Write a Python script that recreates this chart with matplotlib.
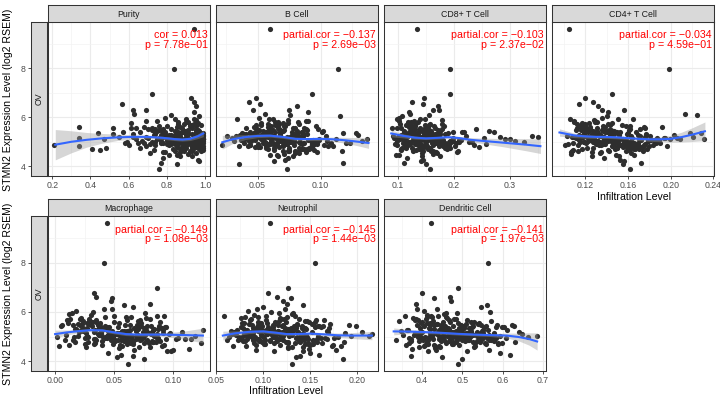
import numpy as np
import matplotlib.pyplot as plt
from matplotlib.ticker import FixedLocator

plt.rcParams['font.family'] = ['Liberation Sans', 'DejaVu Sans']

# STMN2 expression (same samples in every panel)
expr = [
    5.12, 4.85, 5.34, 5.61, 4.72, 5.03, 5.48, 4.95, 5.21, 5.77, 4.58, 5.15, 5.39, 4.88, 5.06,
    5.55, 4.67, 5.28, 5.92, 4.99, 5.11, 4.43, 5.67, 5.01, 5.24, 4.81, 5.45, 6.12, 4.93, 5.18,
    4.76, 5.36, 5.08, 5.84, 4.62, 5.27, 4.97, 5.52, 5.14, 4.35, 5.71, 5.02, 4.89, 5.43, 5.19,
    6.05, 4.79, 5.31, 4.91, 5.58, 5.09, 4.54, 5.25, 5.66, 4.83, 5.13, 5.41, 4.71, 5.98, 5.04,
    5.33, 4.64, 5.17, 5.49, 4.96, 5.73, 4.86, 5.22, 6.31, 5.07, 4.47, 5.37, 5.00, 5.62, 4.90,
    5.26, 4.74, 5.54, 5.10, 4.27, 5.81, 5.16, 4.94, 5.44, 4.80, 5.29, 5.88, 4.69, 5.20, 5.05,
    4.87, 5.50, 5.13, 4.60, 5.35, 6.20, 4.98, 5.23, 4.77, 5.64, 5.08, 4.51, 5.40, 5.94, 5.11,
    4.92, 5.30, 5.69, 4.84, 5.18, 4.40, 5.56, 5.03, 5.27, 4.73, 6.45, 5.15, 4.98, 5.46, 4.66,
    5.21, 5.78, 4.89, 5.32, 4.56, 5.12, 5.60, 4.95, 5.38, 4.22, 5.06, 5.85, 4.81, 5.24, 5.00,
    5.47, 4.70, 5.19, 6.10, 4.90, 5.33, 5.02, 4.63, 5.57, 5.14, 4.86, 5.42, 5.75, 4.97, 5.26,
    9.60, 7.97, 6.96, 6.79, 3.87, 6.55, 6.30, 6.62, 4.10, 4.15,
    5.05, 4.78, 5.22, 5.36, 4.91, 5.14, 5.52, 4.68, 5.29, 5.01, 4.85, 5.43, 5.17, 4.96, 5.63,
    5.09, 5.31, 4.75, 5.58, 5.02, 4.88, 5.25, 5.70, 4.94, 5.13, 4.57, 5.38, 5.07, 5.82, 4.83,
    5.19, 4.99, 5.46, 4.72, 5.11, 5.34, 4.90, 5.53, 5.00, 5.27, 4.64, 5.16, 5.41, 4.86, 5.08,
    5.66, 4.93, 5.20, 5.03, 4.79, 5.49, 5.12, 4.45, 5.30, 5.95, 4.97, 5.23, 4.82, 5.39, 5.06,
    4.89, 5.15, 5.60, 4.74, 5.26, 5.04, 5.44, 4.61, 5.10, 5.35, 4.95, 5.72, 5.18, 4.87, 5.28,
    5.01, 5.48, 4.80, 5.21, 5.13, 4.69, 5.56, 5.07, 4.92, 5.33, 5.79, 4.98, 5.24, 4.76, 5.42,
]

purity = [
    0.83, 0.21, 0.91, 0.34, 0.41, 0.77, 0.95, 0.88, 0.69, 0.61, 0.79, 0.97, 0.86, 0.74, 0.92,
    0.52, 0.45, 0.81, 0.90, 0.96, 0.64, 0.87, 0.98, 0.72, 0.94, 0.34, 0.84, 0.63, 0.99, 0.78,
    0.48, 0.44, 0.93, 0.75, 0.89, 0.98, 0.58, 0.82, 0.96, 0.78, 0.94, 0.67, 0.91, 0.73, 0.55,
    0.97, 0.85, 0.62, 0.93, 0.88, 0.80, 0.71, 0.99, 0.76, 0.95, 0.87, 0.66, 0.97, 0.79, 0.90,
    0.52, 0.92, 0.70, 0.96, 0.84, 0.89, 0.60, 0.94, 0.62, 0.86, 0.81, 0.98, 0.74, 0.68, 0.97,
    0.90, 0.66, 0.78, 0.99, 0.96, 0.86, 0.34, 0.91, 0.97, 0.88, 0.77, 0.95, 0.83, 0.62, 0.85,
    0.93, 0.72, 0.89, 0.78, 0.99, 0.94, 0.59, 0.87, 0.98, 0.80, 0.94, 0.91, 0.57, 0.84, 0.75,
    0.82, 0.96, 0.92, 0.69, 0.87, 0.93, 0.64, 0.99, 0.85, 0.90, 0.95, 0.76, 0.97, 0.89, 0.73,
    0.98, 0.96, 0.86, 0.79, 0.95, 0.47, 0.85, 0.92, 0.74, 0.97, 0.88, 0.69, 0.99, 0.81, 0.94,
    0.91, 0.87, 0.96, 0.82, 0.71, 0.93, 0.83, 0.98, 0.61, 0.90, 0.96, 0.88, 0.95, 0.65, 0.99,
    0.943, 0.835, 0.72, 0.926, 0.757, 0.565, 0.69, 0.94, 0.85, 0.77,
    0.88, 0.93, 0.79, 0.97, 0.84, 0.91, 0.74, 0.99, 0.86, 0.95, 0.81, 0.90, 0.97, 0.77, 0.92,
    0.94, 0.85, 0.98, 0.72, 0.89, 0.96, 0.83, 0.93, 0.78, 0.99, 0.87, 0.95, 0.80, 0.91, 0.97,
    0.86, 0.92, 0.75, 0.98, 0.82, 0.95, 0.89, 0.70, 0.96, 0.84, 0.93, 0.99, 0.79, 0.90, 0.87,
    0.95, 0.81, 0.97, 0.88, 0.93, 0.76, 0.99, 0.85, 0.91, 0.94, 0.68, 0.83, 0.96, 0.89, 0.92,
    0.80, 0.98, 0.87, 0.94, 0.73, 0.90, 0.96, 0.84, 0.99, 0.78, 0.92, 0.86, 0.95, 0.97, 0.82,
    0.91, 0.77, 0.95, 0.86, 0.98, 0.89, 0.93, 0.81, 0.97, 0.74, 0.90, 0.94, 0.85, 0.99, 0.88,
]

b_cell = [
    0.065, 0.022, 0.081, 0.047, 0.058, 0.092, 0.071, 0.039, 0.076, 0.053, 0.088, 0.062, 0.101, 0.044, 0.069,
    0.078, 0.095, 0.057, 0.034, 0.083, 0.112, 0.066, 0.049, 0.073, 0.086, 0.042, 0.061, 0.056, 0.097, 0.052,
    0.063, 0.038, 0.079, 0.090, 0.070, 0.045, 0.108, 0.059, 0.084, 0.074, 0.067, 0.031, 0.093, 0.054, 0.077,
    0.115, 0.048, 0.068, 0.085, 0.041, 0.061, 0.080, 0.104, 0.072, 0.035, 0.099, 0.064, 0.087, 0.051, 0.133,
    0.055, 0.075, 0.043, 0.089, 0.062, 0.083, 0.070, 0.026, 0.046, 0.094, 0.060, 0.118, 0.079, 0.066, 0.050,
    0.086, 0.057, 0.098, 0.040, 0.072, 0.064, 0.047, 0.123, 0.081, 0.067, 0.036, 0.074, 0.091, 0.058, 0.105,
    0.044, 0.068, 0.053, 0.082, 0.128, 0.090, 0.076, 0.062, 0.050, 0.096, 0.037, 0.071, 0.085, 0.059, 0.137,
    0.073, 0.049, 0.064, 0.110, 0.056, 0.078, 0.087, 0.045, 0.068, 0.092, 0.081, 0.030, 0.061, 0.102, 0.075,
    0.052, 0.070, 0.097, 0.041, 0.083, 0.066, 0.058, 0.120, 0.077, 0.063, 0.048, 0.088, 0.106, 0.033, 0.071,
    0.060, 0.084, 0.054, 0.076, 0.093, 0.039, 0.069, 0.117, 0.080, 0.046, 0.103, 0.057, 0.074, 0.065, 0.130,
    0.0599, 0.1134, 0.0933, 0.0484, 0.0733, 0.052, 0.075, 0.043, 0.035, 0.118,
    0.067, 0.052, 0.081, 0.059, 0.073, 0.045, 0.088, 0.063, 0.077, 0.056, 0.094, 0.070, 0.049, 0.084, 0.061,
    0.075, 0.058, 0.091, 0.066, 0.043, 0.079, 0.062, 0.053, 0.086, 0.071, 0.097, 0.048, 0.069, 0.082, 0.057,
    0.064, 0.078, 0.050, 0.089, 0.072, 0.060, 0.095, 0.067, 0.055, 0.080, 0.074, 0.046, 0.085, 0.063, 0.099,
    0.071, 0.057, 0.083, 0.068, 0.092, 0.051, 0.076, 0.065, 0.087, 0.062, 0.054, 0.079, 0.070, 0.044, 0.090,
    0.059, 0.084, 0.066, 0.075, 0.053, 0.096, 0.061, 0.080, 0.069, 0.047, 0.087, 0.058, 0.073, 0.065, 0.082,
    0.078, 0.062, 0.093, 0.055, 0.070, 0.085, 0.049, 0.074, 0.060, 0.089, 0.066, 0.077, 0.052, 0.083, 0.068,
]

cd8 = [
    0.142, 0.098, 0.171, 0.125, 0.188, 0.110, 0.156, 0.204, 0.133, 0.119, 0.167, 0.093, 0.215, 0.148, 0.181,
    0.128, 0.160, 0.105, 0.149, 0.232, 0.137, 0.176, 0.115, 0.195, 0.091, 0.152, 0.263, 0.122, 0.169, 0.140,
    0.184, 0.113, 0.146, 0.101, 0.207, 0.128, 0.165, 0.240, 0.136, 0.117, 0.158, 0.198, 0.095, 0.175, 0.283,
    0.108, 0.150, 0.124, 0.188, 0.098, 0.162, 0.143, 0.221, 0.131, 0.174, 0.300, 0.119, 0.153, 0.102, 0.195,
    0.166, 0.127, 0.254, 0.140, 0.111, 0.179, 0.135, 0.158, 0.173, 0.212, 0.096, 0.146, 0.325, 0.121, 0.186,
    0.154, 0.107, 0.130, 0.170, 0.144, 0.118, 0.199, 0.161, 0.138, 0.245, 0.112, 0.178, 0.157, 0.350, 0.126,
    0.192, 0.145, 0.103, 0.168, 0.134, 0.120, 0.227, 0.151, 0.115, 0.183, 0.139, 0.163, 0.272, 0.099, 0.148,
    0.131, 0.176, 0.155, 0.202, 0.116, 0.143, 0.090, 0.310, 0.164, 0.126, 0.172, 0.138, 0.209, 0.159, 0.106,
    0.147, 0.123, 0.189, 0.135, 0.170, 0.292, 0.153, 0.109, 0.218, 0.141, 0.161, 0.129, 0.180, 0.340, 0.114,
    0.172, 0.137, 0.100, 0.156, 0.258, 0.127, 0.193, 0.145, 0.166, 0.112, 0.236, 0.150, 0.132, 0.185, 0.119,
    0.1346, 0.194, 0.1925, 0.1466, 0.158, 0.145, 0.163, 0.125, 0.150, 0.110,
    0.138, 0.112, 0.165, 0.124, 0.151, 0.103, 0.178, 0.133, 0.157, 0.119, 0.186, 0.145, 0.108, 0.170, 0.129,
    0.154, 0.121, 0.193, 0.140, 0.099, 0.162, 0.116, 0.148, 0.175, 0.131, 0.205, 0.110, 0.159, 0.136, 0.182,
    0.127, 0.168, 0.143, 0.105, 0.155, 0.190, 0.122, 0.147, 0.173, 0.113, 0.160, 0.137, 0.198, 0.118, 0.150,
    0.165, 0.132, 0.109, 0.179, 0.144, 0.126, 0.158, 0.101, 0.185, 0.139, 0.117, 0.167, 0.149, 0.124, 0.210,
    0.141, 0.176, 0.120, 0.157, 0.134, 0.196, 0.111, 0.163, 0.146, 0.128, 0.181, 0.104, 0.152, 0.139, 0.169,
    0.118, 0.150, 0.187, 0.128, 0.162, 0.142, 0.106, 0.174, 0.135, 0.156, 0.123, 0.191, 0.144, 0.114, 0.160,
]

cd4 = [
    0.128, 0.101, 0.152, 0.139, 0.117, 0.163, 0.144, 0.109, 0.176, 0.124, 0.135, 0.187, 0.148, 0.113, 0.157,
    0.121, 0.141, 0.169, 0.106, 0.133, 0.199, 0.126, 0.154, 0.115, 0.181, 0.145, 0.131, 0.213, 0.160, 0.137,
    0.150, 0.119, 0.172, 0.129, 0.108, 0.143, 0.166, 0.125, 0.194, 0.138, 0.112, 0.159, 0.132, 0.147, 0.221,
    0.140, 0.173, 0.127, 0.155, 0.118, 0.184, 0.134, 0.103, 0.162, 0.146, 0.209, 0.123, 0.178, 0.136, 0.151,
    0.130, 0.158, 0.111, 0.142, 0.190, 0.120, 0.167, 0.135, 0.156, 0.114, 0.149, 0.228, 0.127, 0.175, 0.104,
    0.144, 0.122, 0.137, 0.170, 0.153, 0.131, 0.116, 0.186, 0.140, 0.164, 0.203, 0.128, 0.148, 0.110, 0.179,
    0.133, 0.161, 0.149, 0.126, 0.218, 0.141, 0.119, 0.171, 0.155, 0.137, 0.182, 0.107, 0.146, 0.165, 0.231,
    0.158, 0.129, 0.143, 0.197, 0.124, 0.152, 0.176, 0.138, 0.114, 0.168, 0.132, 0.206, 0.147, 0.121, 0.160,
    0.118, 0.145, 0.134, 0.177, 0.163, 0.127, 0.192, 0.150, 0.139, 0.156, 0.124, 0.110, 0.170, 0.143, 0.185,
    0.136, 0.166, 0.108, 0.225, 0.147, 0.159, 0.123, 0.174, 0.131, 0.195, 0.153, 0.140, 0.117, 0.162, 0.129,
    0.105, 0.198, 0.145, 0.120, 0.1615, 0.114, 0.136, 0.127, 0.155, 0.172,
    0.132, 0.147, 0.118, 0.160, 0.139, 0.124, 0.171, 0.109, 0.152, 0.136, 0.183, 0.127, 0.144, 0.165, 0.115,
    0.149, 0.126, 0.163, 0.112, 0.141, 0.175, 0.133, 0.120, 0.157, 0.138, 0.107, 0.168, 0.145, 0.129, 0.180,
    0.123, 0.156, 0.137, 0.170, 0.114, 0.148, 0.130, 0.162, 0.119, 0.177, 0.142, 0.126, 0.153, 0.135, 0.189,
    0.158, 0.121, 0.146, 0.131, 0.174, 0.111, 0.140, 0.166, 0.128, 0.151, 0.134, 0.117, 0.161, 0.143, 0.125,
    0.137, 0.164, 0.125, 0.150, 0.119, 0.179, 0.143, 0.113, 0.155, 0.130, 0.169, 0.141, 0.122, 0.157, 0.134,
    0.146, 0.116, 0.159, 0.138, 0.128, 0.167, 0.121, 0.152, 0.176, 0.133, 0.110, 0.145, 0.163, 0.127, 0.150,
]

macrophage = [
    0.052, 0.008, 0.067, 0.031, 0.079, 0.044, 0.015, 0.086, 0.058, 0.022, 0.071, 0.039, 0.093, 0.047, 0.063,
    0.027, 0.055, 0.083, 0.012, 0.074, 0.036, 0.098, 0.061, 0.019, 0.048, 0.089, 0.069, 0.041, 0.104, 0.033,
    0.066, 0.024, 0.076, 0.050, 0.003, 0.091, 0.057, 0.029, 0.082, 0.045, 0.013, 0.072, 0.110, 0.038, 0.060,
    0.018, 0.085, 0.043, 0.068, 0.035, 0.096, 0.054, 0.077, 0.010, 0.062, 0.026, 0.088, 0.049, 0.032, 0.118,
    0.075, 0.040, 0.059, 0.006, 0.087, 0.021, 0.065, 0.046, 0.080, 0.037, 0.100, 0.053, 0.016, 0.070, 0.094,
    0.034, 0.064, 0.011, 0.081, 0.056, 0.042, 0.097, 0.025, 0.073, 0.051, 0.084, 0.030, 0.061, 0.107, 0.045,
    0.078, 0.023, 0.048, 0.090, 0.037, 0.066, 0.002, 0.057, 0.083, 0.029, 0.070, 0.113, 0.044, 0.014, 0.062,
    0.050, 0.087, 0.035, 0.072, 0.020, 0.095, 0.054, 0.040, 0.068, 0.123, 0.047, 0.076, 0.028, 0.059, 0.092,
    0.039, 0.064, 0.102, 0.017, 0.080, 0.052, 0.031, 0.074, 0.046, 0.066, 0.009, 0.086, 0.058, 0.024, 0.071,
    0.063, 0.033, 0.082, 0.048, 0.115, 0.027, 0.069, 0.055, 0.038, 0.091, 0.060, 0.005, 0.077, 0.043, 0.125,
    0.044, 0.041, 0.086, 0.033, 0.062, 0.048, 0.058, 0.035, 0.075, 0.052,
    0.046, 0.028, 0.061, 0.038, 0.073, 0.052, 0.019, 0.066, 0.041, 0.084, 0.056, 0.031, 0.078, 0.049, 0.024,
    0.058, 0.070, 0.034, 0.089, 0.047, 0.015, 0.063, 0.080, 0.042, 0.055, 0.026, 0.071, 0.037, 0.092, 0.050,
    0.039, 0.064, 0.021, 0.075, 0.053, 0.043, 0.087, 0.030, 0.060, 0.068, 0.012, 0.047, 0.081, 0.035, 0.057,
    0.072, 0.044, 0.059, 0.027, 0.083, 0.036, 0.051, 0.067, 0.018, 0.076, 0.048, 0.062, 0.040, 0.094, 0.054,
    0.033, 0.079, 0.050, 0.064, 0.022, 0.069, 0.042, 0.057, 0.086, 0.038, 0.061, 0.029, 0.074, 0.053, 0.045,
    0.065, 0.037, 0.082, 0.045, 0.056, 0.025, 0.073, 0.049, 0.034, 0.090, 0.060, 0.043, 0.068, 0.017, 0.078,
]

neutrophil = [
    0.112, 0.061, 0.135, 0.094, 0.148, 0.083, 0.121, 0.162, 0.101, 0.076, 0.127, 0.089, 0.155, 0.107, 0.140,
    0.098, 0.118, 0.072, 0.131, 0.180, 0.104, 0.143, 0.086, 0.159, 0.066, 0.115, 0.192, 0.093, 0.137, 0.110,
    0.124, 0.079, 0.146, 0.103, 0.068, 0.133, 0.091, 0.171, 0.117, 0.150, 0.087, 0.128, 0.075, 0.141, 0.205,
    0.084, 0.139, 0.097, 0.157, 0.113, 0.070, 0.126, 0.099, 0.165, 0.081, 0.187, 0.120, 0.145, 0.108, 0.213,
    0.130, 0.092, 0.152, 0.116, 0.074, 0.138, 0.102, 0.168, 0.125, 0.088, 0.178, 0.111, 0.064, 0.147, 0.096,
    0.106, 0.134, 0.080, 0.122, 0.160, 0.095, 0.142, 0.114, 0.199, 0.078, 0.129, 0.090, 0.153, 0.069, 0.119,
    0.144, 0.085, 0.109, 0.173, 0.123, 0.100, 0.136, 0.082, 0.186, 0.117, 0.071, 0.149, 0.105, 0.132, 0.216,
    0.095, 0.127, 0.156, 0.089, 0.137, 0.112, 0.077, 0.194, 0.103, 0.163, 0.121, 0.084, 0.142, 0.098, 0.174,
    0.116, 0.081, 0.148, 0.107, 0.131, 0.067, 0.124, 0.176, 0.093, 0.139, 0.110, 0.058, 0.153, 0.128, 0.088,
    0.136, 0.101, 0.169, 0.123, 0.083, 0.145, 0.113, 0.183, 0.097, 0.130, 0.073, 0.158, 0.118, 0.140, 0.108,
    0.1075, 0.155, 0.127, 0.105, 0.131, 0.130, 0.142, 0.115, 0.185, 0.135,
    0.109, 0.126, 0.094, 0.141, 0.118, 0.085, 0.152, 0.102, 0.133, 0.079, 0.121, 0.160, 0.097, 0.114, 0.145,
    0.129, 0.091, 0.112, 0.155, 0.100, 0.138, 0.083, 0.122, 0.166, 0.106, 0.143, 0.076, 0.118, 0.134, 0.096,
    0.115, 0.147, 0.088, 0.127, 0.104, 0.170, 0.093, 0.136, 0.111, 0.081, 0.150, 0.124, 0.099, 0.139, 0.119,
    0.103, 0.135, 0.120, 0.086, 0.157, 0.110, 0.128, 0.092, 0.146, 0.117, 0.074, 0.131, 0.107, 0.162, 0.098,
    0.137, 0.105, 0.149, 0.090, 0.123, 0.113, 0.164, 0.082, 0.128, 0.144, 0.101, 0.119, 0.087, 0.153, 0.110,
    0.121, 0.095, 0.138, 0.116, 0.080, 0.148, 0.104, 0.131, 0.168, 0.089, 0.125, 0.142, 0.112, 0.099, 0.133,
]

dendritic = [
    0.472, 0.335, 0.518, 0.401, 0.556, 0.443, 0.497, 0.582, 0.461, 0.378, 0.529, 0.421, 0.604, 0.486, 0.539,
    0.412, 0.491, 0.365, 0.455, 0.575, 0.428, 0.512, 0.389, 0.547, 0.349, 0.468, 0.622, 0.437, 0.503, 0.452,
    0.527, 0.396, 0.481, 0.358, 0.441, 0.563, 0.418, 0.509, 0.474, 0.592, 0.385, 0.535, 0.448, 0.499, 0.641,
    0.404, 0.543, 0.459, 0.372, 0.521, 0.487, 0.432, 0.611, 0.466, 0.393, 0.551, 0.478, 0.415, 0.568, 0.685,
    0.492, 0.361, 0.537, 0.446, 0.505, 0.409, 0.572, 0.463, 0.384, 0.524, 0.435, 0.597, 0.476, 0.342, 0.514,
    0.457, 0.531, 0.398, 0.483, 0.618, 0.424, 0.501, 0.369, 0.559, 0.448, 0.494, 0.412, 0.587, 0.470, 0.353,
    0.516, 0.438, 0.579, 0.405, 0.465, 0.545, 0.391, 0.489, 0.631, 0.427, 0.508, 0.376, 0.553, 0.460, 0.648,
    0.443, 0.497, 0.382, 0.565, 0.479, 0.416, 0.540, 0.454, 0.363, 0.598, 0.471, 0.522, 0.407, 0.585, 0.431,
    0.485, 0.413, 0.549, 0.467, 0.392, 0.533, 0.451, 0.608, 0.502, 0.374, 0.526, 0.440, 0.578, 0.496, 0.663,
    0.420, 0.558, 0.475, 0.387, 0.511, 0.453, 0.594, 0.432, 0.488, 0.547, 0.403, 0.628, 0.462, 0.519, 0.448,
    0.423, 0.563, 0.488, 0.400, 0.490, 0.430, 0.560, 0.470, 0.500, 0.450,
    0.466, 0.412, 0.521, 0.447, 0.498, 0.383, 0.539, 0.476, 0.429, 0.562, 0.454, 0.505, 0.401, 0.487, 0.571,
    0.438, 0.493, 0.367, 0.529, 0.461, 0.415, 0.552, 0.480, 0.396, 0.513, 0.445, 0.584, 0.472, 0.423, 0.506,
    0.481, 0.426, 0.547, 0.459, 0.390, 0.517, 0.469, 0.436, 0.574, 0.491, 0.408, 0.535, 0.457, 0.499, 0.380,
    0.511, 0.449, 0.395, 0.556, 0.478, 0.430, 0.501, 0.565, 0.419, 0.486, 0.541, 0.463, 0.372, 0.525, 0.452,
    0.427, 0.508, 0.470, 0.588, 0.441, 0.495, 0.404, 0.532, 0.477, 0.418, 0.560, 0.484, 0.439, 0.515, 0.462,
    0.493, 0.387, 0.536, 0.455, 0.511, 0.474, 0.421, 0.567, 0.444, 0.503, 0.459, 0.398, 0.548, 0.483, 0.527,
]

# loess curves: x, fitted y, half width of the grey band
purity_fit = ([0.216, 0.30, 0.38, 0.46, 0.54, 0.62, 0.70, 0.78, 0.84, 0.88, 0.92, 0.96, 0.99],
              [4.88, 5.00, 5.08, 5.14, 5.18, 5.20, 5.20, 5.16, 5.11, 5.09, 5.12, 5.22, 5.34],
              [0.62, 0.45, 0.30, 0.20, 0.13, 0.09, 0.07, 0.06, 0.06, 0.06, 0.07, 0.09, 0.13])
b_fit = ([0.022, 0.03, 0.04, 0.05, 0.06, 0.07, 0.08, 0.09, 0.10, 0.11, 0.12, 0.13, 0.138],
         [4.98, 5.10, 5.19, 5.24, 5.25, 5.20, 5.12, 5.11, 5.12, 5.10, 5.06, 5.00, 4.95],
         [0.28, 0.18, 0.10, 0.07, 0.06, 0.06, 0.06, 0.06, 0.07, 0.09, 0.12, 0.17, 0.22])
cd8_fit = ([0.088, 0.11, 0.13, 0.15, 0.17, 0.19, 0.21, 0.23, 0.25, 0.27, 0.29, 0.31, 0.33, 0.355],
           [5.34, 5.24, 5.17, 5.14, 5.16, 5.19, 5.15, 5.08, 5.04, 5.00, 4.96, 4.92, 4.88, 4.82],
           [0.14, 0.08, 0.06, 0.05, 0.05, 0.06, 0.07, 0.09, 0.11, 0.14, 0.17, 0.21, 0.25, 0.30])
cd4_fit = ([0.096, 0.11, 0.12, 0.13, 0.14, 0.15, 0.16, 0.17, 0.18, 0.19, 0.20, 0.21, 0.22, 0.232],
           [5.38, 5.26, 5.22, 5.20, 5.20, 5.18, 5.15, 5.12, 5.10, 5.10, 5.12, 5.19, 5.29, 5.43],
           [0.15, 0.09, 0.07, 0.06, 0.06, 0.06, 0.06, 0.07, 0.08, 0.10, 0.14, 0.20, 0.28, 0.38])
mac_fit = ([0.0, 0.01, 0.02, 0.03, 0.04, 0.05, 0.06, 0.07, 0.08, 0.09, 0.10, 0.11, 0.125],
           [5.10, 5.17, 5.22, 5.26, 5.25, 5.17, 5.10, 5.08, 5.08, 5.08, 5.07, 5.06, 5.04],
           [0.16, 0.10, 0.07, 0.06, 0.06, 0.06, 0.06, 0.06, 0.07, 0.08, 0.11, 0.17, 0.30])
neu_fit = ([0.057, 0.07, 0.085, 0.10, 0.115, 0.125, 0.135, 0.15, 0.165, 0.18, 0.195, 0.216],
           [5.04, 5.13, 5.19, 5.21, 5.15, 5.10, 5.10, 5.12, 5.09, 5.05, 5.04, 5.04],
           [0.18, 0.10, 0.07, 0.06, 0.06, 0.06, 0.06, 0.06, 0.07, 0.09, 0.12, 0.17])
dc_fit = ([0.33, 0.37, 0.41, 0.45, 0.49, 0.53, 0.57, 0.61, 0.64, 0.665, 0.685],
          [5.21, 5.20, 5.18, 5.15, 5.11, 5.08, 5.06, 5.04, 4.98, 4.90, 4.80],
          [0.14, 0.08, 0.06, 0.05, 0.05, 0.05, 0.06, 0.10, 0.16, 0.25, 0.35])

# name, x data, fit, stat lines, xlim, ticks, tick labels, row, column
panels = [
    ("Purity", purity, purity_fit, "cor = 0.013", "p = 7.78e\u221201",
     (0.178, 1.025), [0.2, 0.4, 0.6, 0.8, 1.0], ["0.2", "0.4", "0.6", "0.8", "1.0"], 0, 0),
    ("B Cell", b_cell, b_fit, "partial.cor = \u22120.137", "p = 2.69e\u221203",
     (0.017, 0.1455), [0.05, 0.10], ["0.05", "0.10"], 0, 1),
    ("CD8+ T Cell", cd8, cd8_fit, "partial.cor = \u22120.103", "p = 2.37e\u221202",
     (0.075, 0.365), [0.1, 0.2, 0.3], ["0.1", "0.2", "0.3"], 0, 2),
    ("CD4+ T Cell", cd4, cd4_fit, "partial.cor = \u22120.034", "p = 4.59e\u221201",
     (0.089, 0.2405), [0.12, 0.16, 0.20, 0.24], ["0.12", "0.16", "0.20", "0.24"], 0, 3),
    ("Macrophage", macrophage, mac_fit, "partial.cor = \u22120.149", "p = 1.08e\u221203",
     (-0.006, 0.131), [0.0, 0.05, 0.10], ["0.00", "0.05", "0.10"], 1, 0),
    ("Neutrophil", neutrophil, neu_fit, "partial.cor = \u22120.145", "p = 1.44e\u221203",
     (0.0497, 0.2225), [0.05, 0.10, 0.15, 0.20], ["0.05", "0.10", "0.15", "0.20"], 1, 1),
    ("Dendritic Cell", dendritic, dc_fit, "partial.cor = \u22120.141", "p = 1.97e\u221203",
     (0.306, 0.707), [0.4, 0.5, 0.6, 0.7], ["0.4", "0.5", "0.6", "0.7"], 1, 2),
]

W, H = 720, 401
fig = plt.figure(figsize=(7.2, 4.01), dpi=100)


def box(x0, y0, x1, y1):
    return fig.add_axes([x0 / W, 1 - y1 / H, (x1 - x0) / W, (y1 - y0) / H])


cols = [(48, 210), (216, 378), (384, 546), (552, 714)]
rows = [(5, 22, 176), (199, 216, 371)]
ylim = (3.6, 9.9)
edge = '#333333'

for name, xs, fit, line1, line2, xlim, ticks, labels, r, c in panels:
    x0, x1 = cols[c]
    s0, p0, p1 = rows[r]
    ax = box(x0, p0, x1, p1)
    ax.scatter(xs, expr, s=14, color='#2E2E2E', linewidths=0, zorder=2)
    fx, fy, hw = (np.array(v) for v in fit)
    ax.fill_between(fx, fy - hw, fy + hw, color='#999999', alpha=0.4, lw=0, zorder=3)
    ax.plot(fx, fy, color='#3366FF', lw=1.5, zorder=4)
    ax.set_xlim(*xlim)
    ax.set_ylim(*ylim)
    ax.set_xticks(ticks)
    ax.set_xticklabels(labels)
    mids = [(a + b) / 2 for a, b in zip(ticks[:-1], ticks[1:])]
    step = ticks[1] - ticks[0]
    mids = [ticks[0] - step / 2] + mids + [ticks[-1] + step / 2]
    ax.xaxis.set_minor_locator(FixedLocator(mids))
    ax.set_yticks([4, 6, 8])
    ax.yaxis.set_minor_locator(FixedLocator([5, 7, 9]))
    ax.grid(which='major', color='#EBEBEB', lw=0.8, zorder=0)
    ax.grid(which='minor', color='#F2F2F2', lw=0.45, zorder=0)
    ax.set_axisbelow(True)
    ax.tick_params(axis='y', which='both', length=0, labelleft=False)
    ax.tick_params(axis='x', which='minor', length=0)
    ax.tick_params(axis='x', which='major', length=2.2, width=0.6, color=edge,
                   labelsize=6.3, labelcolor='#4D4D4D', pad=1.5)
    for sp in ax.spines.values():
        sp.set_color(edge)
        sp.set_linewidth(0.75)
    ax.text(0.985, 0.945, line1 + "\n" + line2, transform=ax.transAxes,
            ha='right', va='top', color='#FF0000', fontsize=7.7, linespacing=0.95)

    # facet strip on top
    st = box(x0, s0, x1, p0)
    st.set_facecolor('#D9D9D9')
    st.set_xticks([])
    st.set_yticks([])
    for sp in st.spines.values():
        sp.set_color(edge)
        sp.set_linewidth(0.75)
    st.text(0.5, 0.45, name, ha='center', va='center', fontsize=6.3, color='#1A1A1A')

# row strips "OV" carrying the y axis
for s0, p0, p1 in rows:
    ov = box(31, p0, 47, p1)
    ov.set_facecolor('#D9D9D9')
    ov.set_ylim(*ylim)
    ov.set_xticks([])
    ov.set_yticks([4, 6, 8])
    ov.tick_params(axis='y', length=2.2, width=0.6, color=edge,
                   labelsize=6.3, labelcolor='#4D4D4D', pad=1.5)
    for sp in ov.spines.values():
        sp.set_color(edge)
        sp.set_linewidth(0.75)
    ov.text(0.5, 0.5, "OV", transform=ov.transAxes, rotation=90,
            ha='center', va='center', fontsize=6.3, color='#1A1A1A')

ylab = "STMN2 Expression Level (log2 RSEM)"
fig.text(8 / W, 1 - 100 / H, ylab, rotation=90, ha='center', va='center', fontsize=7.6)
fig.text(8 / W, 1 - 294 / H, ylab, rotation=90, ha='center', va='center', fontsize=7.6)
fig.text(634 / W, 1 - 197 / H, "Infiltration Level", ha='center', va='center', fontsize=7.6)
fig.text(286 / W, 1 - 391 / H, "Infiltration Level", ha='center', va='center', fontsize=7.6)

fig.savefig('out.png', dpi=100)
